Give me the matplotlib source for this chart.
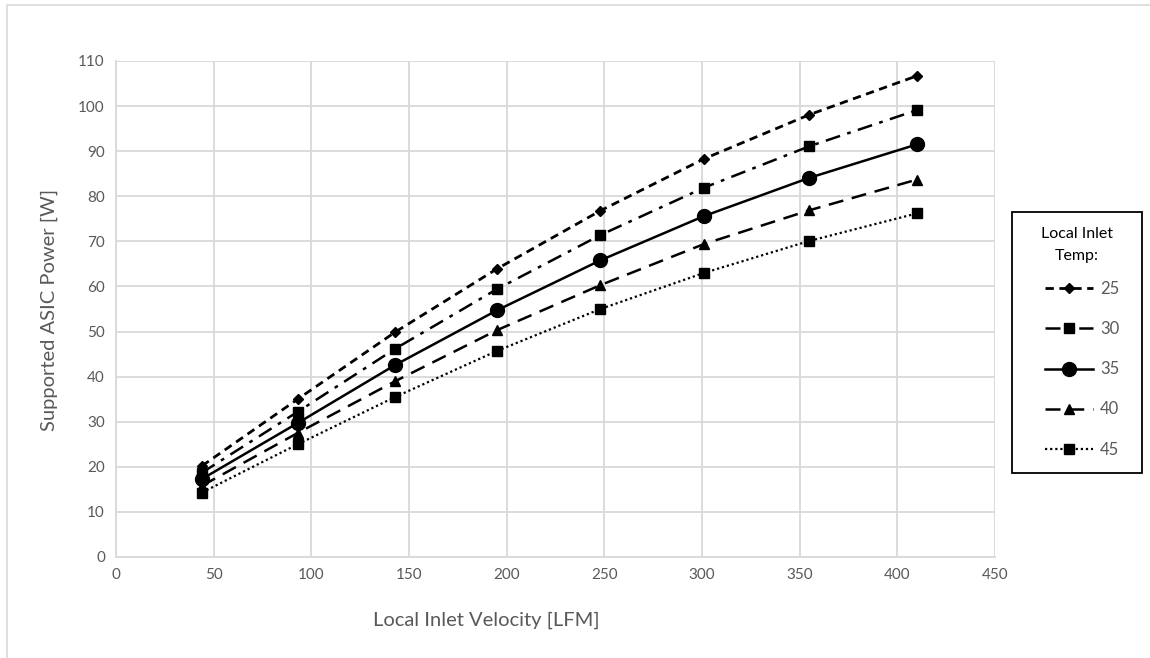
import matplotlib
matplotlib.use("Agg")
import matplotlib.pyplot as plt
from matplotlib.patches import Rectangle

velocity = [44, 93, 143, 195, 248, 301, 355, 410]
temps = ["25", "30", "35", "40", "45"]
power_25 = [20.2, 35.0, 49.9, 63.9, 76.8, 88.3, 98.1, 106.7]
power_30 = [18.7, 32.2, 46.2, 59.4, 71.4, 81.9, 91.1, 99.1]
power_35 = [17.3, 29.7, 42.6, 54.7, 65.8, 75.6, 84.1, 91.5]
power_40 = [15.8, 27.5, 39.0, 50.3, 60.3, 69.4, 76.9, 83.7]
power_45 = [14.3, 25.0, 35.5, 45.7, 55.0, 63.0, 70.1, 76.2]

plt.rcParams['font.family'] = ['Lato', 'DejaVu Sans']
W, H = 1150, 658
fig = plt.figure(figsize=(W/100, H/100), dpi=100)
ax = fig.add_axes([116/W, 1-557/H, (995-116)/W, (557-61)/H])

gray = '#595959'
styles = [
    dict(linestyle=(0, (3, 2)), marker='D', markersize=5, lw=2),
    dict(linestyle=(0, (6, 3, 1.5, 3)), marker='s', markersize=7.5, lw=1.8),
    dict(linestyle='-', marker='o', markersize=10, lw=1.8),
    dict(linestyle=(0, (6, 3.5)), marker='^', markersize=7, lw=1.8),
    dict(linestyle=(0, (1, 1.3)), marker='s', markersize=6.5, lw=1.6),
]
series = [power_25, power_30, power_35, power_40, power_45]
handles = []
for t, vals, st in zip(temps, series, styles):
    h, = ax.plot(velocity, vals, color='black', label=t, **st)
    handles.append(h)

ax.set_xlim(0, 450)
ax.set_ylim(0, 110)
ax.set_xticks(range(0, 451, 50))
ax.set_yticks(range(0, 111, 10))
ax.grid(True, color='#d9d9d9', lw=1.3)
ax.set_axisbelow(True)
for s in ['top', 'right']:
    ax.spines[s].set_visible(False)
for s in ['left', 'bottom']:
    ax.spines[s].set_color('#d9d9d9')
    ax.spines[s].set_linewidth(1.3)
ax.tick_params(length=0, colors=gray, labelsize=11, pad=8)
fig.text(486/W, 1-620/H, 'Local Inlet Velocity [LFM]', color=gray,
         fontsize=14.5, ha='center', va='center')
fig.text(49/W, 1-310/H, 'Supported ASIC Power [W]', color=gray,
         fontsize=14.5, ha='center', va='center', rotation=90)

# figure border
fig.patches.append(Rectangle((7/W, -0.05), 1.2, 1.05-5/H, transform=fig.transFigure,
                             fill=False, edgecolor='#d9d9d9', lw=1.2))
# legend box
fig.patches.append(Rectangle((1012/W, 1-473/H), (1142-1012)/W, (473-212)/H,
                             transform=fig.transFigure, fill=False,
                             edgecolor='black', lw=1.3))
fig.text(1077/W, 1-245/H, 'Local Inlet\nTemp:', ha='center', va='center',
         fontsize=11.5, color='black', linespacing=1.75)
leg = fig.legend(handles=handles, loc='upper left',
                 bbox_to_anchor=(1045/W, 1-281/H), frameon=False,
                 handlelength=2.9, labelspacing=1.45, handletextpad=0.4,
                 fontsize=12, borderpad=0, borderaxespad=0)
for txt in leg.get_texts():
    txt.set_color(gray)

fig.savefig('out.png', dpi=100, facecolor='white')
